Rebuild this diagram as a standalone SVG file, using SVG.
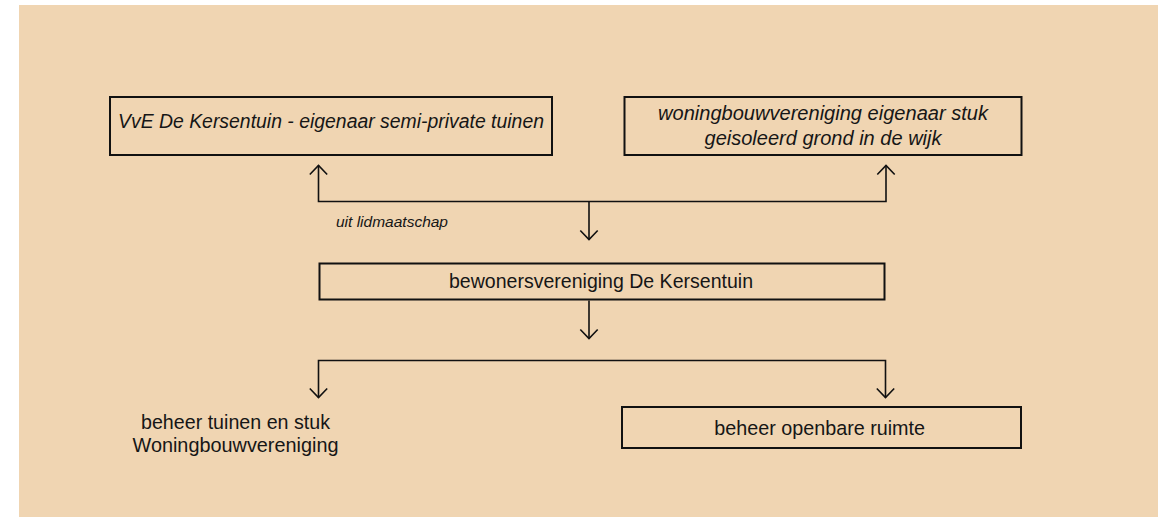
<svg xmlns="http://www.w3.org/2000/svg" width="1171" height="517" viewBox="0 0 1171 517">
<style>
.box{fill:none;stroke:#111;stroke-width:2}
.con{fill:none;stroke:#111;stroke-width:1.6}
.t{font-family:"Liberation Sans",Arial,sans-serif;font-size:19.7px;fill:#161616}
.i{font-style:italic}
</style>
<defs>
<marker id="arr" viewBox="-11 -11 13 22" markerWidth="13" markerHeight="22" refX="0" refY="0" orient="auto" markerUnits="userSpaceOnUse" overflow="visible">
<path d="M-9,-8.7 L0,0 L-9,8.7" fill="none" stroke="#111" stroke-width="1.6"/>
</marker>
</defs>
<rect x="19" y="5" width="1139" height="512" fill="#f0d5b2"/>
<g id="connectors">
<path class="con" d="M589,201.5 H318.5 V165.5" marker-end="url(#arr)"/>
<path class="con" d="M589,201.5 H886 V165.5" marker-end="url(#arr)"/>
<path class="con" d="M589,201.5 V239.5" marker-end="url(#arr)"/>
<path class="con" d="M589,300.5 V338.5" marker-end="url(#arr)"/>
<path class="con" d="M589,360.5 H318.5 V397.5" marker-end="url(#arr)"/>
<path class="con" d="M589,360.5 H885.5 V397.5" marker-end="url(#arr)"/>
<text class="t i" x="336" y="226.7" style="font-size:15.5px" textLength="112" lengthAdjust="spacingAndGlyphs">uit lidmaatschap</text>
</g>
<g id="vve">
<rect class="box" x="110" y="97" width="442" height="58"/>
<text class="t i" x="331" y="128" text-anchor="middle" textLength="426" lengthAdjust="spacingAndGlyphs">VvE De Kersentuin - eigenaar semi-private tuinen</text>
</g>
<g id="woningbouw">
<rect class="box" x="624.5" y="97" width="397" height="58"/>
<text class="t i" x="823" y="120" text-anchor="middle" textLength="330" lengthAdjust="spacingAndGlyphs">woningbouwvereniging eigenaar stuk</text>
<text class="t i" x="823" y="145" text-anchor="middle" textLength="237" lengthAdjust="spacingAndGlyphs">geisoleerd grond in de wijk</text>
</g>
<g id="bewoners">
<rect class="box" x="319.5" y="263.5" width="565" height="36"/>
<text class="t" x="601" y="288" text-anchor="middle" textLength="304" lengthAdjust="spacingAndGlyphs">bewonersvereniging De Kersentuin</text>
</g>
<g id="beheer-tuinen">
<text class="t" x="235.5" y="429" text-anchor="middle" textLength="189" lengthAdjust="spacingAndGlyphs">beheer tuinen en stuk</text>
<text class="t" x="235.5" y="451.7" text-anchor="middle" textLength="206" lengthAdjust="spacingAndGlyphs">Woningbouwvereniging</text>
</g>
<g id="beheer-openbaar">
<rect class="box" x="622" y="407" width="399" height="41"/>
<text class="t" x="819.7" y="434.5" text-anchor="middle" textLength="210.7" lengthAdjust="spacingAndGlyphs">beheer openbare ruimte</text>
</g>
</svg>
